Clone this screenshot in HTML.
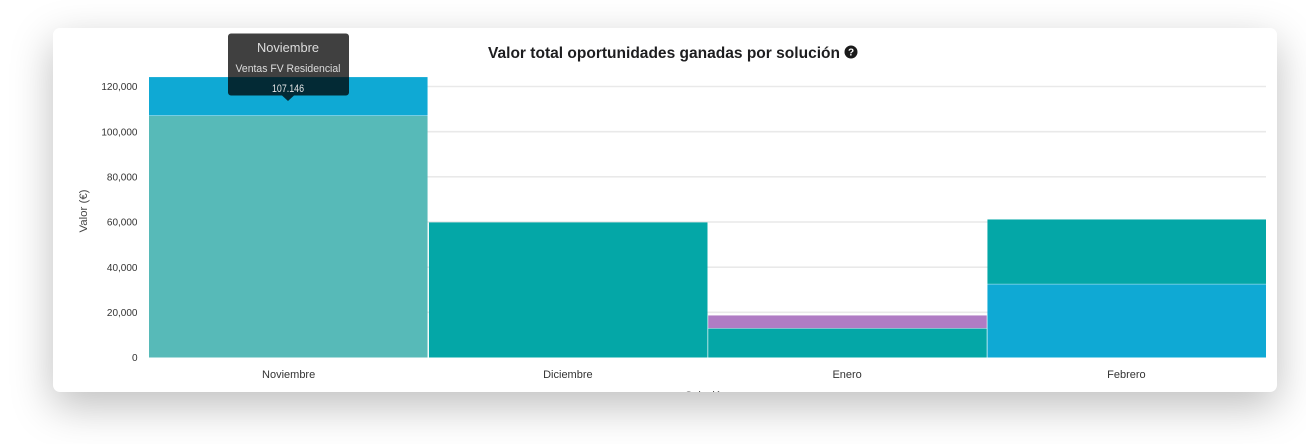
<!DOCTYPE html>
<html lang="es">
<head>
<meta charset="utf-8">
<title>Valor total oportunidades ganadas por solución</title>
<style>
  html, body { margin: 0; padding: 0; width: 1306px; height: 444px; background: #fff; overflow: hidden; }
  #card { position: absolute; left: 53px; top: 28px; width: 1224px; height: 364px; background: #fff; border-radius: 7px;
          box-shadow: 0 14px 42px rgba(0,0,0,.26); }
  #chart { position: absolute; left: 0; top: 0; filter: blur(0.35px); }
  text { font-family: "Liberation Sans", "DejaVu Sans", sans-serif; }
</style>
</head>
<body>
<div id="card"></div>
<svg id="chart" width="1306" height="444" viewBox="0 0 1306 444" xmlns="http://www.w3.org/2000/svg">
  <defs><clipPath id="card-clip"><rect x="53" y="28" width="1224" height="364"></rect></clipPath></defs>
  <g id="grid"></g>
  <g id="bars"></g>
  <g id="y-labels"></g>
  <g id="x-labels"></g>
  <text x="488" y="58" font-size="15.5" font-weight="700" fill="#1d1d1f" textLength="352" lengthAdjust="spacingAndGlyphs">Valor total oportunidades ganadas por solución</text>
  <g>
    <circle cx="851" cy="52" r="6.5" fill="#1a1a1a"></circle>
    <text x="851" y="55.6" font-size="10" font-weight="700" fill="#fff" text-anchor="middle">?</text>
  </g>
  <text transform="translate(87,211) rotate(-90)" font-size="11" fill="#444" text-anchor="middle" textLength="43" lengthAdjust="spacingAndGlyphs">Valor (€)</text>
  <g clip-path="url(#card-clip)">
    <text x="706" y="399" font-size="11" fill="#444" text-anchor="middle" textLength="42" lengthAdjust="spacingAndGlyphs">Solución</text>
  </g>
  <g id="tooltip">
    <path d="M231 33.5H346a3 3 0 0 1 3 3V92.5a3 3 0 0 1 -3 3H294L288 101L282 95.5H231a3 3 0 0 1 -3 -3V36.5a3 3 0 0 1 3 -3Z" fill="rgba(0,0,0,.75)"></path>
    <text id="tt-title" x="288" y="52" font-size="12.5" fill="#ddd" text-anchor="middle" textLength="62" lengthAdjust="spacingAndGlyphs"></text>
    <text id="tt-series" x="288" y="72" font-size="11" fill="#ddd" text-anchor="middle" textLength="105" lengthAdjust="spacingAndGlyphs"></text>
    <text id="tt-value" x="288" y="92" font-size="11" fill="#e6e6e6" text-anchor="middle" textLength="32" lengthAdjust="spacingAndGlyphs"></text>
  </g>
</svg>
<script>
const categories = ["Noviembre", "Diciembre", "Enero", "Febrero"];
const seriesNames = ["Ventas FV Residencial", "Ventas FV Industrial", "Mantenimiento", "Otros"];
const seriesResidencial = [107146, 60000, 13000, 0];
const seriesIndustrial = [17200, 0, 0, 32600];
const seriesMantenimiento = [0, 0, 0, 28700];
const seriesOtros = [0, 0, 5800, 0];
const seriesColors = ["#04a7a7", "#0fa9d4", "#04a7a7", "#b07cc4"];
const yTicks = [0, 20000, 40000, 60000, 80000, 100000, 120000];
const hoveredCategory = 0;
const hoveredSeries = 0;
const hoverColor = "#52b8b6";

const NS = "http://www.w3.org/2000/svg";
const allSeries = [seriesResidencial, seriesIndustrial, seriesMantenimiento, seriesOtros];
const plot = { left: 149, right: 1266, bottom: 357.5, top: 86.5, max: 120000 };

function yScale(v) {
  return plot.bottom - (v / plot.max) * (plot.bottom - plot.top);
}
function xBand(i) {
  return plot.left + i * (plot.right - plot.left) / categories.length;
}
const bandWidth = (plot.right - plot.left) / categories.length;

function make(tag, attrs, parent, text) {
  const el = document.createElementNS(NS, tag);
  Object.keys(attrs).forEach(function (k) { el.setAttribute(k, attrs[k]); });
  if (text !== undefined) el.textContent = text;
  parent.appendChild(el);
  return el;
}

const gridG = document.getElementById("grid");
const yG = document.getElementById("y-labels");
yTicks.forEach(function (t) {
  if (t > 0) {
    const line = make("line", { x1: plot.left, x2: plot.right, y1: yScale(t), y2: yScale(t), stroke: "#e9e9e9", "stroke-width": 1.6 }, gridG);
    
    
  }
  const label = make("text", { x: 137.5, y: yScale(t) + 3.6, "font-size": 10, fill: "#333", "text-anchor": "end" }, yG, t.toLocaleString("en-US"));
  
  
});

const barsG = document.getElementById("bars");
categories.forEach(function (cat, i) {
  let base = 0;
  allSeries.forEach(function (values, s) {
    const v = values[i];
    if (!v) return;
    const y1 = yScale(base);
    const y2 = yScale(base + v);
    const isHover = i === hoveredCategory && s === hoveredSeries;
    const rect = make("rect", {
      x: xBand(i) + (i === 0 ? 0 : 0.7),
      y: y2 + 0.4,
      width: bandWidth - (i === 0 ? 0.7 : 0.7),
      height: Math.max(y1 - y2 - 0.4, 0),
      fill: isHover ? hoverColor : seriesColors[s],
      "fill-opacity": isHover ? 0.97 : 1
    }, barsG);
    
    
    base += v;
  });
});

const xG = document.getElementById("x-labels");
categories.forEach(function (cat, i) {
  const label = make("text", { x: xBand(i) + bandWidth / 2, y: 378, "font-size": 11, fill: "#333", "text-anchor": "middle" }, xG, cat);
  
  
});

document.getElementById("tt-title").textContent = categories[hoveredCategory];
document.getElementById("tt-series").textContent = seriesNames[hoveredSeries];
document.getElementById("tt-value").textContent = allSeries[hoveredSeries][hoveredCategory].toLocaleString("de-DE");
</script>
</body>
</html>
